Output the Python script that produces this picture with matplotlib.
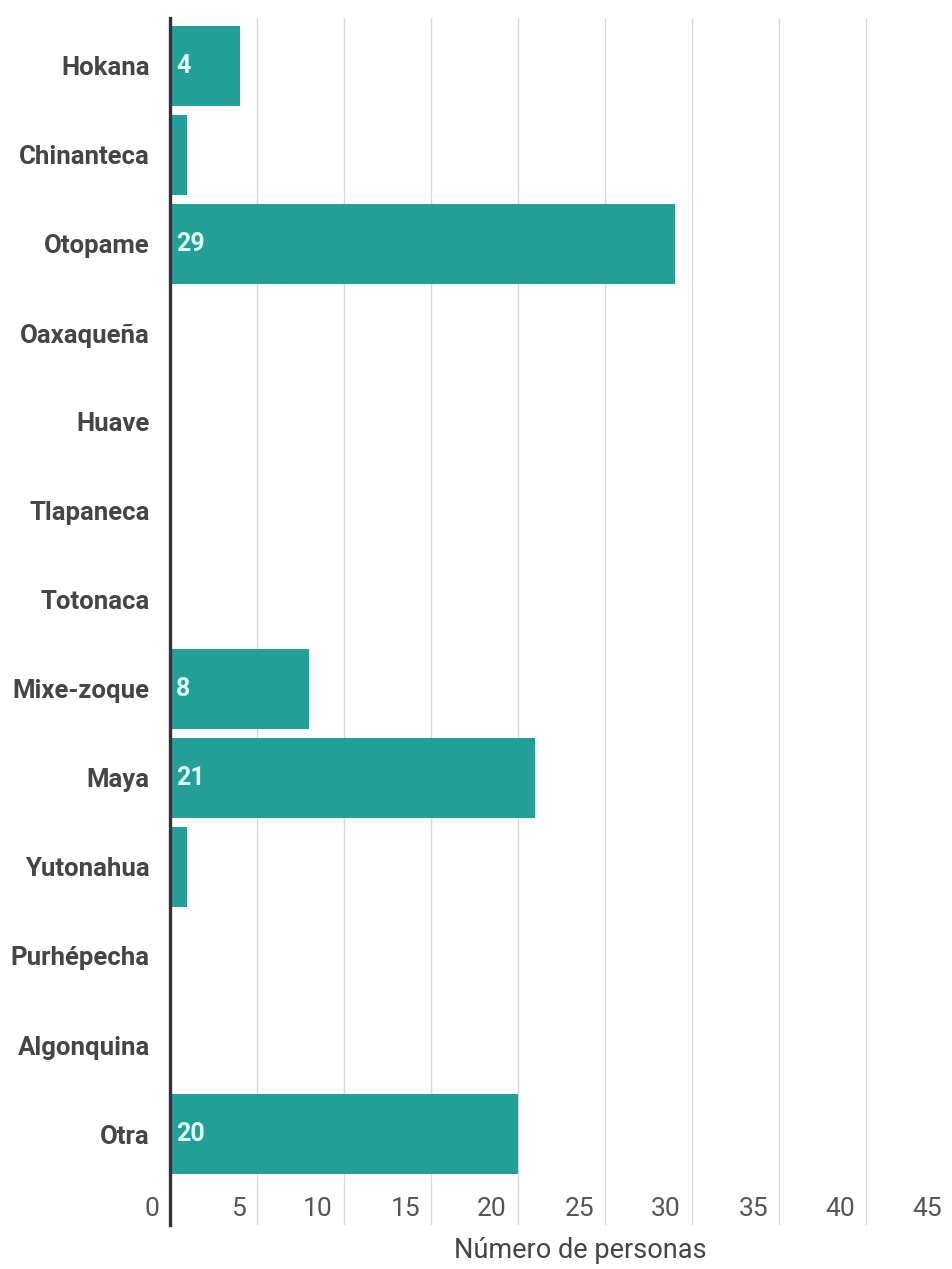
import matplotlib
matplotlib.use("Agg")
import matplotlib.pyplot as plt
from matplotlib.transforms import ScaledTranslation

categories = ["Hokana", "Chinanteca", "Otopame", "Oaxaqueña", "Huave", "Tlapaneca",
              "Totonaca", "Mixe-zoque", "Maya", "Yutonahua", "Purhépecha", "Algonquina", "Otra"]
values = [4, 1, 29, 0, 0, 0, 0, 8, 21, 1, 0, 0, 20]
shown_labels = ["4", "", "29", "", "", "", "", "8", "21", "", "", "", "20"]
xticks = [0, 5, 10, 15, 20, 25, 30, 35, 40, 45]
xlabel = "Número de personas"

plt.rcParams['font.family'] = ['Roboto', 'DejaVu Sans']

W, H = 953, 1269
fig = plt.figure(figsize=(W / 100, H / 100), dpi=100)
left, right, top, bottom = 170, 953, 18, 1225
ax = fig.add_axes([left / W, (H - bottom) / H, (right - left) / W, (bottom - top) / H])

pitch = 89.0
first = 66.0
y_top = (top - first) / pitch
y_bot = (bottom - first) / pitch

ypos = list(range(len(categories)))
bar_color = "#239f98"
ax.barh(ypos, values, height=0.89, color=bar_color, zorder=2)

ax.set_xlim(0, 45)
ax.set_ylim(y_bot, y_top)

ax.set_xticks(xticks)
ax.grid(axis='x', color='#d8d8d8', linewidth=1.0, zorder=0)
ax.set_axisbelow(True)

for s in ['top', 'right', 'bottom']:
    ax.spines[s].set_visible(False)
ax.spines['left'].set_color('#333333')
ax.spines['left'].set_linewidth(2.4)
ax.spines['left'].set_zorder(3)

ax.set_yticks(ypos)
ax.set_yticklabels(categories, fontsize=18.5, color='#454545', fontweight='bold')
ax.tick_params(axis='y', length=0, pad=14.5)

ax.set_xticklabels([str(t) for t in xticks], fontsize=19, color='#555555')
ax.tick_params(axis='x', length=0, pad=-20)
off = ScaledTranslation(-11 / 100, 0, fig.dpi_scale_trans)
for lab in ax.get_xticklabels():
    lab.set_horizontalalignment('right')
    lab.set_transform(lab.get_transform() + off)

voff = ScaledTranslation(6 / 100, 0, fig.dpi_scale_trans)
for y, v, s in zip(ypos, values, shown_labels):
    if s:
        ax.text(0, y, s, ha='left', va='center', fontsize=18, color='#dcfffa',
                fontweight='bold', transform=ax.transData + voff, zorder=4)

fig.text(580 / W, 1 - 1250 / H, xlabel, ha='center', va='center', fontsize=19.5, color='#444444')

fig.savefig("out.png", dpi=100)
